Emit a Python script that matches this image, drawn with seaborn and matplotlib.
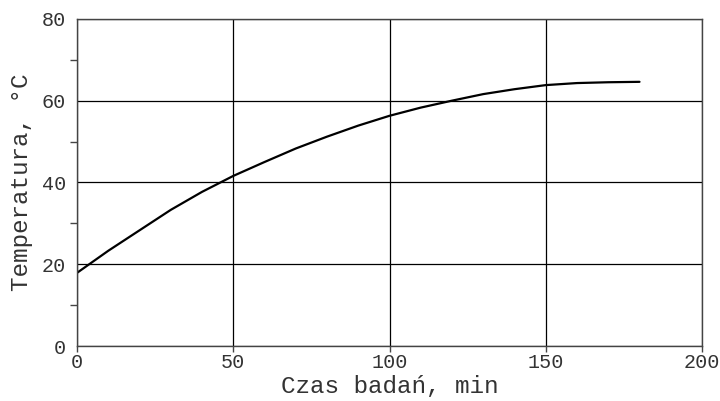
import matplotlib
matplotlib.use("Agg")
import matplotlib.pyplot as plt
import numpy as np
import pandas as pd
import seaborn as sns
from matplotlib.ticker import MultipleLocator

# czas badan [min] i temperatura [C]
czas = [0, 10, 20, 30, 40, 50, 60, 70, 80, 90, 100, 110, 120, 130, 140, 150, 160, 170, 180]
temperatura = [17.9, 23.3, 28.3, 33.3, 37.7, 41.6, 45.0, 48.3, 51.2, 53.9, 56.3,
               58.3, 60.0, 61.6, 62.8, 63.8, 64.3, 64.5, 64.6]
x_ticks = [0, 50, 100, 150, 200]
y_ticks = [0, 20, 40, 60, 80]

df = pd.DataFrame({"czas": czas, "temp": temperatura})

sns.set_theme(style="white")
plt.rcParams['font.family'] = ['Liberation Mono', 'DejaVu Sans Mono']

fig = plt.figure(figsize=(7.2, 4.01), dpi=100)
ax = fig.add_axes([0.107, 0.137, 0.868, 0.816])

sns.lineplot(data=df, x="czas", y="temp", color="black", linewidth=1.6, ax=ax)

ax.set_xlim(0, 200)
ax.set_ylim(0, 80)
ax.set_xticks(x_ticks)
ax.set_yticks(y_ticks)
ax.yaxis.set_minor_locator(MultipleLocator(10))
ax.grid(True, which="major", color="black", linewidth=0.9)
for s in ax.spines.values():
    s.set_color("#444444")
    s.set_linewidth(1.0)

ax.tick_params(axis="y", which="major", direction="out", length=7, width=1,
               color="#444444", labelsize=14.5, labelcolor="#333333", pad=1)
ax.tick_params(axis="y", which="minor", direction="out", length=5, width=1,
               color="#444444", left=True)
ax.tick_params(axis="x", which="major", direction="out", length=4, width=1,
               color="#444444", labelsize=14.5, labelcolor="#333333", pad=1, bottom=True)

ax.set_xlabel("Czas badań, min", fontsize=17.5, color="#333333", labelpad=2)
ax.set_ylabel("Temperatura, °C", fontsize=17.5, color="#333333", labelpad=6)

fig.savefig("out.png", dpi=100)
